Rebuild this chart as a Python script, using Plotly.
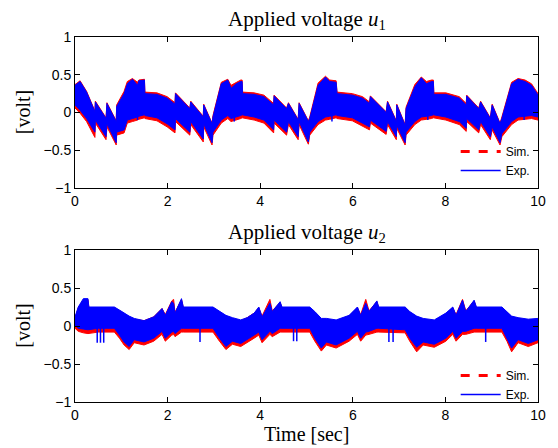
import plotly.graph_objects as go
from plotly.subplots import make_subplots

# ---- data (envelopes of the dense voltage signals) ----
T1 = [0.00, 0.11, 0.25, 0.43, 0.44, 0.67, 0.69, 0.89, 0.90, 1.06, 1.13, 1.24, 1.35, 1.38,
      1.50, 1.51, 1.77, 1.99, 2.16, 2.17, 2.48, 2.50, 2.77, 2.78, 2.96, 2.98, 3.16, 3.30,
      3.37, 3.48, 3.58, 3.61, 3.62, 3.87, 4.08, 4.29, 4.30, 4.57, 4.61, 4.82, 4.84, 5.04,
      5.07, 5.25, 5.41, 5.50, 5.64, 5.66, 5.99, 6.21, 6.36, 6.38, 6.72, 6.75, 6.94, 6.95,
      7.13, 7.15, 7.34, 7.48, 7.59, 7.70, 7.74, 7.75, 8.01, 8.30, 8.45, 8.46, 8.72, 8.76,
      8.97, 9.01, 9.18, 9.22, 9.43, 9.57, 9.72, 9.86, 10.0]
U1_EXP_HI = [0.36, 0.41, 0.27, 0.01, 0.14, -0.08, 0.12, -0.12, 0.08, 0.25, 0.38, 0.44, 0.36, 0.42,
             0.43, 0.25, 0.24, 0.19, 0.11, 0.25, 0.05, 0.14, -0.06, 0.10, -0.15, -0.06, 0.38, 0.43,
             0.32, 0.38, 0.41, 0.41, 0.25, 0.24, 0.21, 0.10, 0.22, 0.05, 0.12, -0.10, 0.12, -0.12,
             -0.08, 0.36, 0.47, 0.41, 0.40, 0.25, 0.23, 0.19, 0.12, 0.21, 0.00, 0.14, -0.12, 0.10,
             -0.17, 0.05, 0.34, 0.46, 0.38, 0.41, 0.41, 0.24, 0.24, 0.19, 0.10, 0.22, 0.05, 0.14,
             -0.08, 0.10, -0.15, -0.08, 0.38, 0.44, 0.41, 0.36, 0.23]
U1_EXP_LO = [0.10, 0.03, -0.08, -0.26, -0.10, -0.32, -0.15, -0.40, -0.26, -0.23, -0.10, -0.08, -0.06, -0.05,
             -0.03, -0.04, -0.07, -0.15, -0.23, -0.08, -0.26, -0.12, -0.35, -0.15, -0.40, -0.26, -0.10, -0.04,
             -0.08, -0.06, -0.04, -0.03, -0.03, -0.06, -0.10, -0.23, -0.10, -0.26, -0.12, -0.32, -0.12, -0.39,
             -0.26, -0.12, -0.06, -0.05, -0.03, -0.04, -0.07, -0.14, -0.19, -0.10, -0.25, -0.12, -0.32, -0.17,
             -0.40, -0.26, -0.12, -0.06, -0.05, -0.04, -0.03, -0.04, -0.06, -0.12, -0.21, -0.08, -0.23, -0.12,
             -0.32, -0.19, -0.40, -0.28, -0.12, -0.06, -0.05, -0.04, -0.06]
U1_SIM_HI = [0.37, 0.42, 0.28, 0.02, 0.15, -0.07, 0.13, -0.11, 0.10, 0.28, 0.41, 0.45, 0.40, 0.43,
             0.44, 0.27, 0.26, 0.21, 0.13, 0.26, 0.06, 0.15, -0.05, 0.11, -0.14, -0.04, 0.40, 0.44,
             0.36, 0.40, 0.43, 0.43, 0.27, 0.26, 0.23, 0.12, 0.23, 0.06, 0.13, -0.09, 0.13, -0.11,
             -0.06, 0.39, 0.48, 0.43, 0.42, 0.27, 0.25, 0.21, 0.14, 0.22, 0.01, 0.15, -0.11, 0.11,
             -0.16, 0.07, 0.37, 0.47, 0.41, 0.43, 0.43, 0.26, 0.26, 0.21, 0.12, 0.23, 0.06, 0.15,
             -0.07, 0.11, -0.14, -0.06, 0.40, 0.45, 0.43, 0.38, 0.25]
U1_SIM_LO = [0.06, -0.01, -0.12, -0.33, -0.14, -0.36, -0.19, -0.43, -0.30, -0.27, -0.14, -0.12, -0.10, -0.09,
             -0.07, -0.08, -0.11, -0.19, -0.27, -0.12, -0.30, -0.16, -0.39, -0.19, -0.43, -0.30, -0.14, -0.08,
             -0.12, -0.10, -0.08, -0.07, -0.07, -0.10, -0.14, -0.27, -0.14, -0.30, -0.16, -0.36, -0.16, -0.42,
             -0.30, -0.16, -0.10, -0.09, -0.07, -0.08, -0.11, -0.18, -0.23, -0.14, -0.29, -0.16, -0.36, -0.21,
             -0.43, -0.30, -0.16, -0.10, -0.09, -0.08, -0.07, -0.08, -0.10, -0.16, -0.25, -0.12, -0.27, -0.16,
             -0.36, -0.23, -0.43, -0.32, -0.16, -0.10, -0.09, -0.08, -0.10]
# isolated downward blue spikes in the experiment trace of u1
U1_SPIKE_T = [1.35, 3.44, 5.55, 7.62, 9.70]
U1_SPIKE_TOP = [0.10, 0.10, 0.10, 0.10, 0.10]
U1_SPIKE_LO = [-0.10, -0.12, -0.12, -0.10, -0.10]

T2 = [0.00, 0.07, 0.18, 0.28, 0.30, 0.50, 0.85, 0.96, 1.06, 1.17, 1.28, 1.49, 1.70, 1.88,
      1.95, 2.09, 2.13, 2.16, 2.30, 2.34, 2.98, 3.12, 3.26, 3.40, 3.58, 3.72, 3.87, 3.97,
      4.04, 4.21, 4.26, 4.43, 4.47, 5.07, 5.18, 5.32, 5.43, 5.64, 5.92, 6.10, 6.17, 6.28,
      6.35, 6.52, 6.56, 7.13, 7.23, 7.38, 7.52, 7.76, 8.01, 8.16, 8.23, 8.37, 8.44, 8.62,
      8.67, 9.22, 9.33, 9.43, 9.57, 9.79, 10.0]
U2_EXP_HI = [0.12, 0.25, 0.36, 0.36, 0.25, 0.25, 0.25, 0.21, 0.17, 0.13, 0.10, 0.07, 0.12, 0.23,
             0.14, 0.32, 0.30, 0.17, 0.36, 0.25, 0.25, 0.19, 0.14, 0.11, 0.08, 0.11, 0.17, 0.25,
             0.12, 0.30, 0.19, 0.32, 0.25, 0.25, 0.19, 0.10, 0.10, 0.08, 0.14, 0.25, 0.14, 0.30,
             0.19, 0.33, 0.25, 0.25, 0.19, 0.13, 0.10, 0.08, 0.17, 0.25, 0.14, 0.34, 0.19, 0.34,
             0.25, 0.25, 0.19, 0.13, 0.11, 0.09, 0.10]
U2_EXP_LO = [0.01, -0.03, -0.04, -0.05, -0.04, -0.03, -0.03, -0.12, -0.21, -0.27, -0.18, -0.21, -0.16, -0.07,
             -0.16, -0.08, -0.07, -0.10, -0.03, -0.03, -0.03, -0.16, -0.27, -0.20, -0.23, -0.18, -0.12, -0.08,
             -0.18, -0.07, -0.10, -0.03, -0.03, -0.03, -0.16, -0.29, -0.21, -0.25, -0.16, -0.07, -0.16, -0.08,
             -0.07, -0.03, -0.03, -0.05, -0.16, -0.28, -0.21, -0.24, -0.16, -0.07, -0.16, -0.07, -0.07, -0.03,
             -0.03, -0.03, -0.16, -0.29, -0.18, -0.23, -0.18]
U2_SIM_HI = [0.10, 0.24, 0.34, 0.35, 0.24, 0.24, 0.24, 0.20, 0.16, 0.12, 0.09, 0.07, 0.12, 0.23,
             0.15, 0.33, 0.35, 0.18, 0.35, 0.24, 0.24, 0.18, 0.13, 0.10, 0.07, 0.11, 0.17, 0.24,
             0.13, 0.35, 0.20, 0.31, 0.24, 0.24, 0.18, 0.09, 0.09, 0.07, 0.13, 0.24, 0.15, 0.35,
             0.20, 0.32, 0.24, 0.24, 0.18, 0.12, 0.09, 0.07, 0.16, 0.24, 0.15, 0.35, 0.20, 0.33,
             0.24, 0.24, 0.18, 0.12, 0.10, 0.08, 0.09]
U2_SIM_LO = [-0.03, -0.07, -0.09, -0.10, -0.09, -0.08, -0.08, -0.16, -0.25, -0.31, -0.22, -0.25, -0.20, -0.11,
             -0.20, -0.12, -0.11, -0.14, -0.08, -0.08, -0.08, -0.20, -0.31, -0.24, -0.27, -0.22, -0.16, -0.12,
             -0.22, -0.11, -0.14, -0.08, -0.08, -0.08, -0.20, -0.33, -0.25, -0.29, -0.20, -0.11, -0.20, -0.12,
             -0.11, -0.08, -0.08, -0.09, -0.20, -0.34, -0.25, -0.28, -0.20, -0.11, -0.20, -0.11, -0.11, -0.08,
             -0.08, -0.08, -0.20, -0.34, -0.22, -0.27, -0.22]
# isolated downward blue spikes in the experiment trace of u2
U2_SPIKE_T = [0.48, 0.55, 0.62, 2.70, 4.72, 4.79, 6.78, 6.87, 8.87, 9.98]
U2_SPIKE_TOP = [0.05, 0.05, 0.05, 0.05, 0.05, 0.05, 0.05, 0.05, 0.05, 0.05]
U2_SPIKE_LO = [-0.22, -0.22, -0.22, -0.21, -0.20, -0.20, -0.21, -0.21, -0.21, -0.12]

X_TICKS = [0, 2, 4, 6, 8, 10]
Y_TICKS = [-1, -0.5, 0, 0.5, 1]
Y_TICK_LABELS = ["\u22121", "\u22120.5", "0", "0.5", "1"]

RED = "#ff0000"
BLUE = "#0000ff"
SERIF = "Liberation Serif"
SANS = "Liberation Sans"


def band_trace(t, hi, lo, color):
    """
    Builds a filled band between the upper and lower envelope
    of a densely oscillating signal
    :param t: time values
    :param hi: upper envelope values
    :param lo: lower envelope values
    :param color: fill and edge colour
    :return: plotly scatter trace
    """
    return go.Scatter(
        x=list(t) + list(t)[::-1],
        y=list(hi) + list(lo)[::-1],
        mode="lines",
        fill="toself",
        fillcolor=color,
        line=dict(color=color, width=1),
        hoverinfo="skip",
        showlegend=False,
    )


def spike_trace(t, top, lo, color):
    """
    Thin vertical strokes for single samples that leave the band
    """
    xs, ys = [], []
    for ti, a, b in zip(t, top, lo):
        xs += [ti, ti, None]
        ys += [a, b, None]
    return go.Scatter(x=xs, y=ys, mode="lines", line=dict(color=color, width=1.5),
                      hoverinfo="skip", showlegend=False)


def legend_traces(legend_name):
    """
    Dummy traces that only show up in the legend
    """
    sim = go.Scatter(x=[None], y=[None], mode="lines", name="Sim.",
                     line=dict(color=RED, width=3, dash="dash"), legend=legend_name)
    exp = go.Scatter(x=[None], y=[None], mode="lines", name="Exp.",
                     line=dict(color=BLUE, width=1.5), legend=legend_name)
    return sim, exp


fig = make_subplots(rows=2, cols=1, vertical_spacing=0.17)

panels = [
    (T1, U1_SIM_HI, U1_SIM_LO, U1_EXP_HI, U1_EXP_LO,
     U1_SPIKE_T, U1_SPIKE_TOP, U1_SPIKE_LO, "legend"),
    (T2, U2_SIM_HI, U2_SIM_LO, U2_EXP_HI, U2_EXP_LO,
     U2_SPIKE_T, U2_SPIKE_TOP, U2_SPIKE_LO, "legend2"),
]
for i, (t, s_hi, s_lo, e_hi, e_lo, sp_t, sp_top, sp_lo, leg) in enumerate(panels, start=1):
    fig.add_trace(band_trace(t, s_hi, s_lo, RED), row=i, col=1)
    fig.add_trace(band_trace(t, e_hi, e_lo, BLUE), row=i, col=1)
    fig.add_trace(spike_trace(sp_t, sp_top, sp_lo, BLUE), row=i, col=1)
    sim, exp = legend_traces(leg)
    fig.add_trace(sim, row=i, col=1)
    fig.add_trace(exp, row=i, col=1)

axis_style = dict(
    showline=True, linecolor="black", linewidth=1, mirror="ticks",
    ticks="inside", ticklen=5, tickcolor="black", showgrid=False, zeroline=False,
    tickfont=dict(family=SANS, size=14, color="black"),
)
fig.update_xaxes(range=[0, 10], tickvals=X_TICKS, **axis_style)
fig.update_yaxes(range=[-1, 1], tickvals=Y_TICKS, ticktext=Y_TICK_LABELS, **axis_style)

# the page body adds an 8px offset, so the figure is a bit smaller than the window
top_dom = [214 / 365, 1.0]
bot_dom = [0.0, 152 / 365]
legend_style = dict(xanchor="right", yanchor="bottom", bgcolor="rgba(255,255,255,0)",
                    itemwidth=40, tracegroupgap=0,
                    font=dict(family=SANS, size=12, color="black"))
fig.update_layout(
    width=550, height=440,
    margin=dict(l=67, r=13, t=29, b=46),
    paper_bgcolor="white", plot_bgcolor="white",
    yaxis=dict(domain=top_dom),
    yaxis2=dict(domain=bot_dom),
    legend=dict(x=0.995, y=217 / 365, **legend_style),
    legend2=dict(x=0.995, y=-7 / 365, **legend_style),
)

title_font = dict(family=SERIF, size=21, color="black")
label_font = dict(family=SERIF, size=20, color="black")
fig.add_annotation(text="Applied voltage <i>u</i><sub>1</sub>", x=0.5, y=1.0, xref="paper", yref="paper",
                   yanchor="bottom", yshift=2, showarrow=False, font=title_font)
fig.add_annotation(text="Applied voltage <i>u</i><sub>2</sub>", x=0.5, y=bot_dom[1], xref="paper", yref="paper",
                   yanchor="bottom", yshift=2, showarrow=False, font=title_font)
fig.add_annotation(text="Time [sec]", x=0.5, y=0, xref="paper", yref="paper",
                   yanchor="top", yshift=-19, showarrow=False, font=label_font)
for mid in [(214 / 365 + 1) / 2, 76 / 365]:
    fig.add_annotation(text="[volt]", x=-0.113, y=mid, xref="paper", yref="paper",
                       xanchor="center", yanchor="middle",
                       textangle=-90, showarrow=False, font=label_font)

fig.write_html("out.html")
